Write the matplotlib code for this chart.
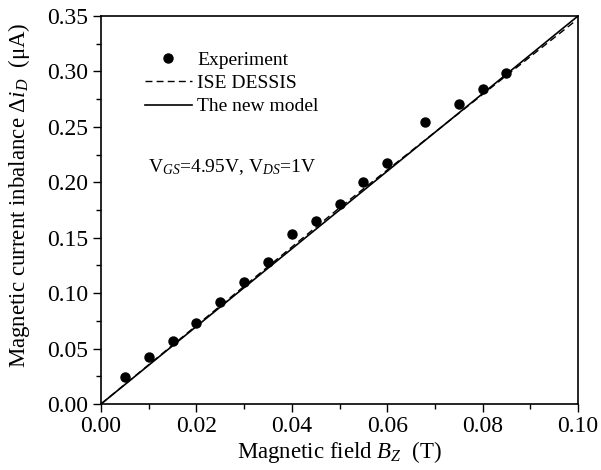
import numpy as np
import matplotlib
matplotlib.use('Agg')
import matplotlib.pyplot as plt

plt.rcParams['font.family'] = 'Liberation Serif'
plt.rcParams['mathtext.fontset'] = 'custom'
plt.rcParams['mathtext.rm'] = 'Liberation Serif'
plt.rcParams['mathtext.it'] = 'Liberation Serif:italic'

# measured imbalance vs field
b_exp = [0.005, 0.010, 0.015, 0.020, 0.025, 0.030, 0.035, 0.040,
         0.045, 0.050, 0.055, 0.060, 0.068, 0.075, 0.080, 0.085]
di_exp = [0.024, 0.042, 0.057, 0.073, 0.092, 0.110, 0.128, 0.153,
          0.165, 0.180, 0.200, 0.217, 0.254, 0.271, 0.284, 0.299]

# simulation (ISE DESSIS)
b_sim = [0.0, 0.05, 0.099]
di_sim = [0.0, 0.177, 0.344]

# analytical model
b_mod = [0.0, 0.1]
di_mod = [0.0, 0.35]

fig = plt.figure(figsize=(6.01, 4.70), dpi=100)
ax = fig.add_axes([101 / 601., 66 / 470., 477 / 601., 388 / 470.])

ax.plot(b_exp, di_exp, 'o', color='black', markersize=6.5, label='Experiment')
ax.plot(b_sim, di_sim, color='black', linewidth=1.0, dashes=(5, 3),
        label='ISE DESSIS')
ax.plot(b_mod, di_mod, '-', color='black', linewidth=1.2, label='The new model')

ax.set_xlim(0, 0.10)
ax.set_ylim(0, 0.35)
ax.set_xticks(np.arange(0, 0.101, 0.02))
ax.set_yticks(np.arange(0, 0.351, 0.05))
ax.set_xticks(np.arange(0, 0.101, 0.01), minor=True)
ax.set_yticks(np.arange(0, 0.351, 0.025), minor=True)
ax.xaxis.set_major_formatter(matplotlib.ticker.FormatStrFormatter('%.2f'))
ax.yaxis.set_major_formatter(matplotlib.ticker.FormatStrFormatter('%.2f'))
ax.tick_params(which='both', direction='out', top=False, right=False,
               labelsize=17, width=1.0)
ax.tick_params(which='major', length=6, pad=3)
ax.tick_params(which='minor', length=3.5)
for sp in ax.spines.values():
    sp.set_linewidth(1.2)

ax.set_xlabel('Magnetic field $B_Z$  (T)', fontsize=16.5, labelpad=1)
ax.set_ylabel('Magnetic current inbalance $\\Delta i_D$  (\u03bcA)',
              fontsize=16.5)
ax.yaxis.set_label_coords(-0.145, 0.539)

leg = ax.legend(loc='upper left', bbox_to_anchor=(0.092, 0.91), frameon=False,
                fontsize=14, handlelength=2.4, labelspacing=0.3,
                handletextpad=0.3, borderpad=0, borderaxespad=0)

ax.text(0.0098, 0.209, 'V$_{GS}$=4.95V, V$_{DS}$=1V', fontsize=14)

fig.savefig('out.png', dpi=100)
